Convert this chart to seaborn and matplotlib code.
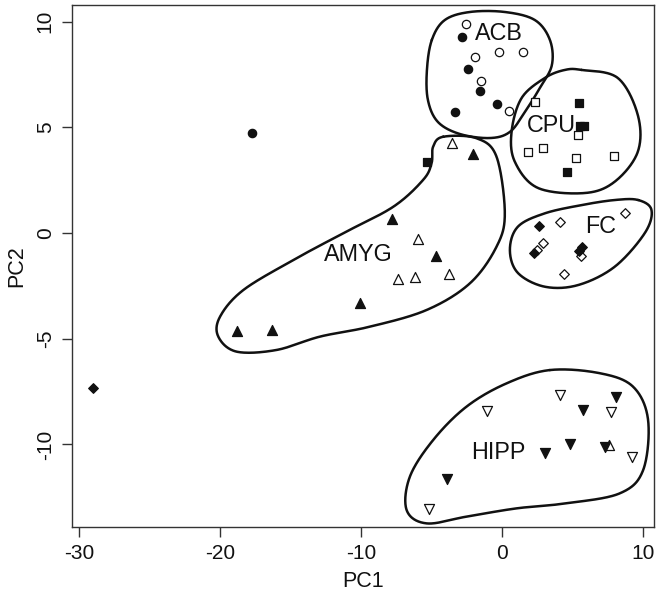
import numpy as np
import pandas as pd
import matplotlib
matplotlib.use("Agg")
import matplotlib.pyplot as plt
import seaborn as sns

# ---------------- data (PC1, PC2) ----------------
acb_open_x = [-2.58, -1.92, -0.19, 1.47, -1.49, 0.52]
acb_open_y = [9.88, 8.34, 8.56, 8.56, 7.20, 5.78]
acb_fill_x = [-2.82, -2.39, -1.56, -0.31, -3.34, -17.72]
acb_fill_y = [9.28, 7.75, 6.71, 6.10, 5.71, 4.73]

cpu_open_x = [2.34, 5.42, 1.87, 2.89, 5.23, 7.93]
cpu_open_y = [6.18, 4.63, 3.85, 4.00, 3.56, 3.66]
cpu_fill_x = [5.49, 5.54, 5.84, 4.59, -5.35]
cpu_fill_y = [6.13, 5.06, 5.06, 2.90, 3.34]

fc_open_x = [4.12, 8.73, 2.93, 2.51, 5.61, 4.40]
fc_open_y = [0.53, 0.93, -0.46, -0.80, -1.09, -1.94]
fc_fill_x = [2.65, 2.29, 5.70, 5.46, -29.05]
fc_fill_y = [0.33, -0.96, -0.65, -0.84, -7.34]

amyg_open_x = [-3.55, -5.98, -7.36, -6.17, -3.78, 7.59]
amyg_open_y = [4.24, -0.30, -2.17, -2.08, -1.92, -10.02]
amyg_fill_x = [-2.03, -7.79, -4.68, -10.06, -18.83, -16.35]
amyg_fill_y = [3.73, 0.68, -1.07, -3.31, -4.65, -4.59]

hipp_open_x = [-1.02, 4.16, 7.74, 9.27, -5.16]
hipp_open_y = [-8.42, -7.66, -8.45, -10.57, -13.06]
hipp_fill_x = [8.09, 5.73, 3.05, 4.87, 7.31, -3.88]
hipp_fill_y = [-7.74, -8.37, -10.39, -9.99, -10.13, -11.65]

# group labels
group_names = ["ACB", "CPU", "FC", "AMYG", "HIPP"]
label_x = [-0.21, 3.55, 7.0, -10.2, -0.26]
label_y = [9.41, 5.07, 0.33, -1.04, -10.39]

# hand-drawn group outlines (control points in data units)
acb_out_x = [-4.97, -4.05, -2.27, 0.21, 2.34, 3.41, 3.55, 2.70, 1.63, 0.57, -0.85, -2.98, -4.54, -5.25, -5.32]
acb_out_y = [9.13, 10.07, 10.45, 10.45, 10.07, 9.13, 7.94, 6.86, 5.72, 4.78, 4.49, 4.68, 5.25, 6.29, 7.71]
cpu_out_x = [5.66, 8.23, 9.65, 9.65, 8.02, 5.89, 2.56, 0.92, 0.69, 1.40, 3.05, 4.47]
cpu_out_y = [7.71, 7.33, 5.58, 3.84, 2.43, 1.89, 2.13, 3.37, 4.79, 6.38, 7.33, 7.71]
fc_out_x = [9.67, 10.62, 10.15, 8.02, 5.42, 3.05, 1.14, 0.57, 1.14, 3.05, 5.66, 8.02]
fc_out_y = [1.56, 1.09, 0.0, -1.59, -2.46, -2.54, -1.89, -0.80, 0.30, 0.93, 1.32, 1.56]
amyg_out_x = [-4.17, -1.80, -0.38, 0.21, -0.38, -2.27, -5.34, -9.37, -12.92, -15.99, -18.83,
              -20.13, -20.01, -18.36, -14.81, -11.26, -7.71, -5.59, -4.99, -4.88]
amyg_out_y = [4.55, 4.48, 3.61, 0.93, -0.65, -2.38, -3.64, -4.43, -4.90, -5.53, -5.61,
              -4.90, -3.96, -2.70, -1.28, -0.01, 1.24, 2.51, 3.30, 4.08]
hipp_out_x = [3.41, 6.96, 9.32, 10.38, 10.03, 8.37, 4.59, 1.04, -2.51, -5.34, -6.76, -6.53, -4.88, -2.51, 0.33]
hipp_out_y = [-6.48, -6.63, -7.27, -8.84, -11.21, -12.31, -12.78, -13.02, -13.41, -13.73, -13.10,
              -11.52, -9.79, -8.21, -7.11]


def closed_spline(xs, ys, n=40):
    P = np.column_stack([xs, ys]).astype(float)
    N = len(P)
    t = np.linspace(0, 1, n, endpoint=False)[:, None]
    segs = []
    for i in range(N):
        p0, p1, p2, p3 = P[(i - 1) % N], P[i], P[(i + 1) % N], P[(i + 2) % N]
        pts = 0.5 * ((2 * p1) + (-p0 + p2) * t + (2 * p0 - 5 * p1 + 4 * p2 - p3) * t ** 2
                     + (-p0 + 3 * p1 - 3 * p2 + p3) * t ** 3)
        segs.append(pts)
    segs.append(P[:1])
    out = np.vstack(segs)
    return out[:, 0], out[:, 1]


sns.set_theme(style="white")
plt.rcParams["font.family"] = ["Liberation Sans", "DejaVu Sans"]

fig = plt.figure(figsize=(6.58, 5.96), dpi=100)
ax = fig.add_axes([0.1087, 0.1158, 0.885, 0.8758])

# outlines
for ox, oy in [(acb_out_x, acb_out_y), (cpu_out_x, cpu_out_y), (fc_out_x, fc_out_y),
               (amyg_out_x, amyg_out_y), (hipp_out_x, hipp_out_y)]:
    sx, sy = closed_spline(ox, oy)
    ax.plot(sx, sy, color="#111111", lw=1.8, solid_capstyle="round")

series = [
    (acb_open_x, acb_open_y, "o", False, 36),
    (acb_fill_x, acb_fill_y, "o", True, 36),
    (cpu_open_x, cpu_open_y, "s", False, 30),
    (cpu_fill_x, cpu_fill_y, "s", True, 30),
    (fc_open_x, fc_open_y, "D", False, 24),
    (fc_fill_x, fc_fill_y, "D", True, 24),
    (amyg_open_x, amyg_open_y, "^", False, 52),
    (amyg_fill_x, amyg_fill_y, "^", True, 52),
    (hipp_open_x, hipp_open_y, "v", False, 52),
    (hipp_fill_x, hipp_fill_y, "v", True, 52),
]
for xs, ys, mk, filled, s in series:
    df = pd.DataFrame({"PC1": xs, "PC2": ys})
    sns.scatterplot(data=df, x="PC1", y="PC2", ax=ax, marker=mk, s=s,
                    facecolor="#111111" if filled else "white",
                    edgecolor="#111111", linewidth=0.9, zorder=3)

for name, lx, ly in zip(group_names, label_x, label_y):
    ax.text(lx, ly, name, ha="center", va="center", fontsize=16.8, color="#111111", zorder=4)

ax.set_xlim(-30.55, 10.79)
ax.set_ylim(-13.9, 10.78)
ax.set_xticks([-30, -20, -10, 0, 10])
ax.set_yticks([-10, -5, 0, 5, 10])
ax.set_xticklabels(["-30", "-20", "-10", "0", "10"])
ax.set_yticklabels(["-10", "-5", "0", "5", "10"], rotation=90, va="center")
ax.tick_params(axis="both", direction="out", length=7, width=1, color="#333333",
               labelsize=15, labelcolor="#111111", pad=5, left=True, bottom=True)
for sp in ax.spines.values():
    sp.set_visible(True)
    sp.set_color("#333333")
    sp.set_linewidth(1.0)
ax.set_xlabel("PC1", fontsize=15.5, color="#111111", labelpad=6)
ax.set_ylabel("PC2", fontsize=15.5, color="#111111", labelpad=6)
ax.grid(False)

fig.savefig("out.png", dpi=100)
